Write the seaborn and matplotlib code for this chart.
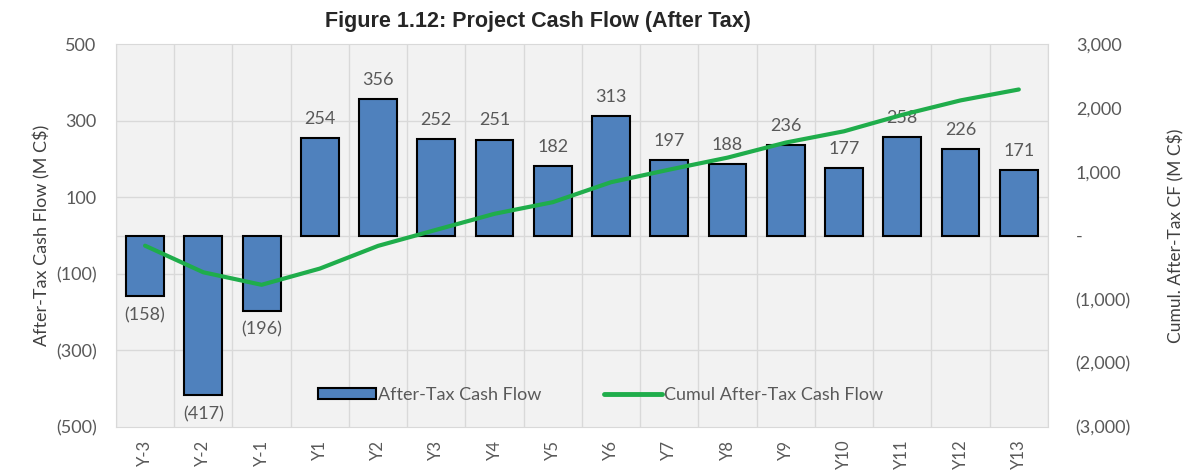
import numpy as np
import pandas as pd
import matplotlib
matplotlib.use("Agg")
import matplotlib.pyplot as plt
import seaborn as sns
from matplotlib.ticker import FuncFormatter
from matplotlib.patches import Patch
from matplotlib.lines import Line2D

# data
years = ["Y-3", "Y-2", "Y-1", "Y1", "Y2", "Y3", "Y4", "Y5", "Y6", "Y7",
         "Y8", "Y9", "Y10", "Y11", "Y12", "Y13"]
cash_flow = [-158, -417, -196, 254, 356, 252, 251, 182, 313, 197,
             188, 236, 177, 258, 226, 171]
cumul_flow = [-158, -575, -771, -517, -161, 91, 342, 524, 837, 1034,
              1222, 1458, 1635, 1893, 2119, 2290]

df = pd.DataFrame({"Year": years, "CF": cash_flow, "Cumul": cumul_flow})

sns.set_style("white")
plt.rcParams["font.family"] = ["Lato", "DejaVu Sans"]

bar_col = "#4f81bd"
line_col = "#1fad4b"
grid_col = "#d9d9d9"
txt_col = "#595959"

fig = plt.figure(figsize=(11.88, 4.75), dpi=100)
ax = fig.add_axes([0.0976, 0.101, 0.7845, 0.806])
ax.set_facecolor("#f2f2f2")

sns.barplot(x="Year", y="CF", data=df, color=bar_col, width=0.65,
            edgecolor="black", linewidth=1.5, saturation=1, ax=ax, zorder=3)

ax.set_ylim(-500, 500)
ax.set_yticks([-500, -300, -100, 100, 300, 500])
ax.yaxis.set_major_formatter(FuncFormatter(
    lambda v, p: f"({abs(v):.0f})" if v < 0 else f"{v:.0f}"))
ax.set_xlim(-0.5, len(years) - 0.5)

# grid lines
for b in np.arange(-0.5, len(years), 1.0):
    ax.axvline(b, color=grid_col, lw=1, zorder=1)
for t in [-300, -100, 0, 100, 300]:
    ax.axhline(t, color=grid_col, lw=1, zorder=1)
for s in ax.spines.values():
    s.set_color(grid_col)

# data labels
for i, v in enumerate(cash_flow):
    if v >= 0:
        ax.annotate(f"{v}", (i, v), xytext=(0, 8), textcoords="offset points",
                    ha="center", va="bottom", fontsize=13, color=txt_col, zorder=6)
    else:
        ax.annotate(f"({abs(v)})", (i, v), xytext=(0, -8), textcoords="offset points",
                    ha="center", va="top", fontsize=13, color=txt_col, zorder=6)

ax.set_xlabel("")
ax.set_ylabel("After-Tax Cash Flow (M C$)", fontsize=13, color="#404040")
ax.tick_params(axis="x", rotation=90, labelsize=12, labelcolor=txt_col, length=0, pad=9)
ax.tick_params(axis="y", labelsize=13, labelcolor=txt_col, length=0, pad=14)

# cumulative line on right axis
ax2 = ax.twinx()
sns.lineplot(x=np.arange(len(years)), y=cumul_flow, color=line_col, lw=3,
             ax=ax2, zorder=5)
ax2.set_ylim(-3000, 3000)
ax2.set_yticks(range(-3000, 3001, 1000))
ax2.yaxis.set_major_formatter(FuncFormatter(
    lambda v, p: "-" if v == 0 else (f"({abs(v):,.0f})" if v < 0 else f"{v:,.0f}")))
ax2.set_ylabel("Cumul. After-Tax CF (M C$)", fontsize=12.5, color="#404040")
ax2.tick_params(axis="y", labelsize=13, labelcolor=txt_col, length=0, pad=20)
ax2.yaxis.set_label_coords(1.128, 0.5)
for s in ax2.spines.values():
    s.set_visible(False)

# legend
handles = [Patch(facecolor=bar_col, edgecolor="black", linewidth=1.5),
           Line2D([0], [0], color=line_col, lw=3.5)]
ax2.legend(handles, ["After-Tax Cash Flow", "Cumul After-Tax Cash Flow"],
           loc="lower center", bbox_to_anchor=(0.52, 0.02), ncol=2, frameon=False,
           fontsize=13, labelcolor=txt_col, handlelength=3.2, handleheight=0.6,
           handletextpad=0.1, columnspacing=3.5)

fig.text(0.453, 0.955, "Figure 1.12: Project Cash Flow (After Tax)",
         ha="center", va="center", fontsize=15.5, fontweight="bold",
         family=["Liberation Sans", "DejaVu Sans"])

plt.savefig("out.png", dpi=100)
